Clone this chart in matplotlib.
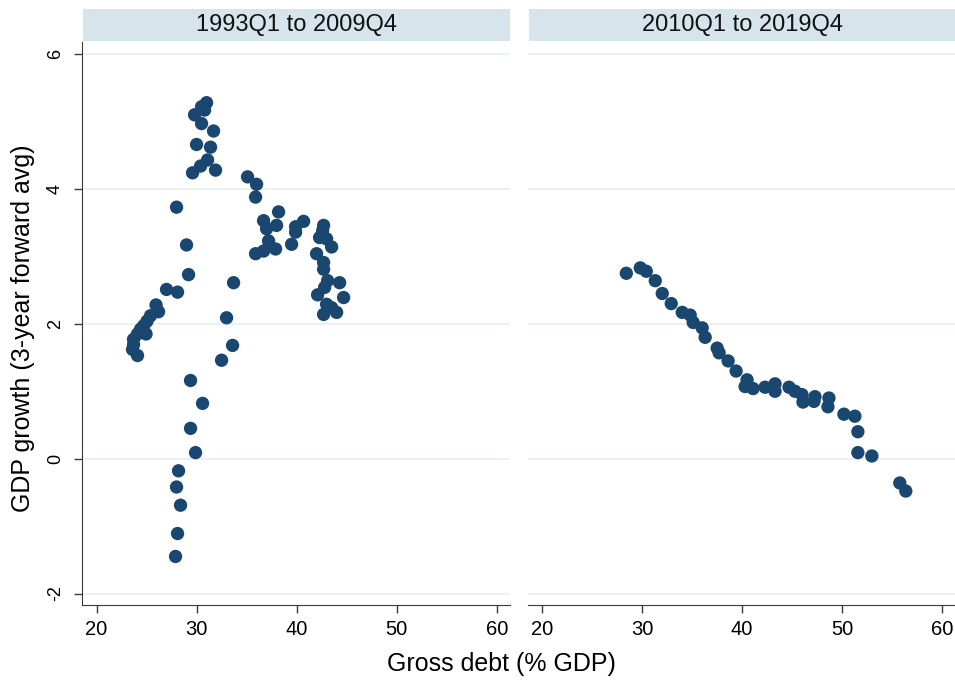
import matplotlib.pyplot as plt
from matplotlib.patches import Rectangle

plt.rcParams["font.family"] = ["Liberation Sans", "DejaVu Sans"]
plt.rcParams["axes.unicode_minus"] = False

NAVY = "#1a476f"
STRIP = "#d6e4ec"
GRID = "#e4edf0"

# 1993Q1-2009Q4: gross debt (% GDP) vs 3-year forward avg GDP growth
debt_early = [29.2, 33.7, 27.0, 28.1, 25.95, 26.2, 25.4, 25.05, 24.7, 24.4,
              24.95, 24.1, 23.7, 23.7, 23.6, 24.1, 33.0, 33.6, 32.5, 29.4,
              30.6, 29.4, 29.9, 28.2, 28.0, 28.4, 28.1, 27.9,
              31.0, 30.5, 30.8, 29.8, 30.5, 31.7, 30.0, 31.4, 31.1, 30.4,
              29.6, 31.9, 28.0, 29.0,
              35.1, 36.0, 35.9, 38.2, 36.7, 38.0, 37.0, 40.7, 39.9, 39.9,
              42.7, 42.6, 42.3, 43.5, 43.0, 37.2, 37.9, 39.5, 35.9, 36.7,
              42.0, 42.7, 42.7, 43.1, 44.3, 42.8, 42.1, 44.7, 43.0, 43.5,
              44.0, 42.7]
growth_early = [2.73, 2.61, 2.51, 2.47, 2.28, 2.18, 2.12, 2.04, 1.97, 1.92,
                1.85, 1.85, 1.77, 1.69, 1.62, 1.53, 2.09, 1.68, 1.46, 1.16,
                0.82, 0.45, 0.09, -0.18, -0.42, -0.69, -1.11, -1.45,
                5.28, 5.22, 5.17, 5.10, 4.97, 4.86, 4.66, 4.62, 4.43, 4.34,
                4.24, 4.28, 3.73, 3.17,
                4.18, 4.07, 3.88, 3.66, 3.53, 3.46, 3.41, 3.52, 3.44, 3.36,
                3.46, 3.38, 3.28, 3.14, 3.26, 3.23, 3.11, 3.18, 3.04, 3.08,
                3.04, 2.91, 2.81, 2.64, 2.61, 2.54, 2.43, 2.39, 2.29, 2.24,
                2.17, 2.14]

# 2010Q1-2019Q4
debt_late = [28.4, 29.8, 30.4, 31.3, 32.0, 32.9, 34.0, 34.8, 35.1, 36.0,
             36.3, 37.5, 37.7, 38.6, 39.4, 40.5, 40.3, 41.1, 42.3, 43.3,
             43.3, 44.7, 45.3, 46.0, 46.1, 47.3, 47.2, 48.7, 48.6, 50.2,
             51.3, 51.6, 51.6, 53.0, 55.8, 56.4]
growth_late = [2.75, 2.83, 2.78, 2.64, 2.45, 2.30, 2.17, 2.13, 2.02, 1.94,
               1.80, 1.64, 1.57, 1.45, 1.30, 1.17, 1.07, 1.04, 1.06, 1.11,
               1.00, 1.06, 1.00, 0.95, 0.84, 0.92, 0.85, 0.90, 0.77, 0.66,
               0.63, 0.40, 0.09, 0.04, -0.36, -0.48]

panels = [("1993Q1 to 2009Q4", debt_early, growth_early),
          ("2010Q1 to 2019Q4", debt_late, growth_late)]

fig = plt.figure(figsize=(9.55, 6.82), dpi=100)
bottom, top = 1 - 605 / 682, 1 - 42 / 682
lefts = [82 / 955, 528 / 955]
widths = [428 / 955, 427 / 955]

for i, (title, xs, ys) in enumerate(panels):
    ax = fig.add_axes([lefts[i], bottom, widths[i], top - bottom])
    ax.scatter(xs, ys, s=92, color=NAVY, edgecolors="none", zorder=3)
    ax.set_xlim(18.55, 61.33)
    ax.set_ylim(-2.17, 6.18)
    ax.set_xticks([20, 30, 40, 50, 60])
    ax.set_yticks([-2, 0, 2, 4, 6])
    ax.grid(axis="y", color=GRID, linewidth=1.1, zorder=0)
    ax.set_axisbelow(True)
    for side in ["top", "right"]:
        ax.spines[side].set_visible(False)
    ax.spines["bottom"].set_color("#3a3a3a")
    ax.spines["left"].set_color("#3a3a3a")
    ax.tick_params(axis="x", length=6, width=1, color="#3a3a3a",
                   labelsize=14.5, pad=5)
    ax.tick_params(axis="y", length=6, width=1, color="#3a3a3a",
                   labelsize=13, pad=7, labelrotation=90)
    for lab in ax.get_yticklabels():
        lab.set_va("center")
    if i == 1:
        ax.spines["left"].set_visible(False)
        ax.tick_params(axis="y", left=False, labelleft=False)

    # panel header strip
    x0 = lefts[i] + 1 / 955
    strip_bottom = 1 - 40.7 / 682
    strip_h = 31.4 / 682
    fig.add_artist(Rectangle((x0, strip_bottom), widths[i] - 1 / 955, strip_h,
                             transform=fig.transFigure, facecolor=STRIP,
                             edgecolor="none"))
    fig.text(x0 + (widths[i] - 1 / 955) / 2, strip_bottom + strip_h / 2,
             title, ha="center", va="center", fontsize=17, color="#111111")

fig.text(0.024, 1 - 328 / 682, "GDP growth (3-year forward avg)",
         rotation=90, ha="center", va="center", fontsize=18)
fig.text(501.5 / 955, 1 - 664 / 682, "Gross debt (% GDP)",
         ha="center", va="center", fontsize=18)

fig.savefig("out.png", dpi=100)
